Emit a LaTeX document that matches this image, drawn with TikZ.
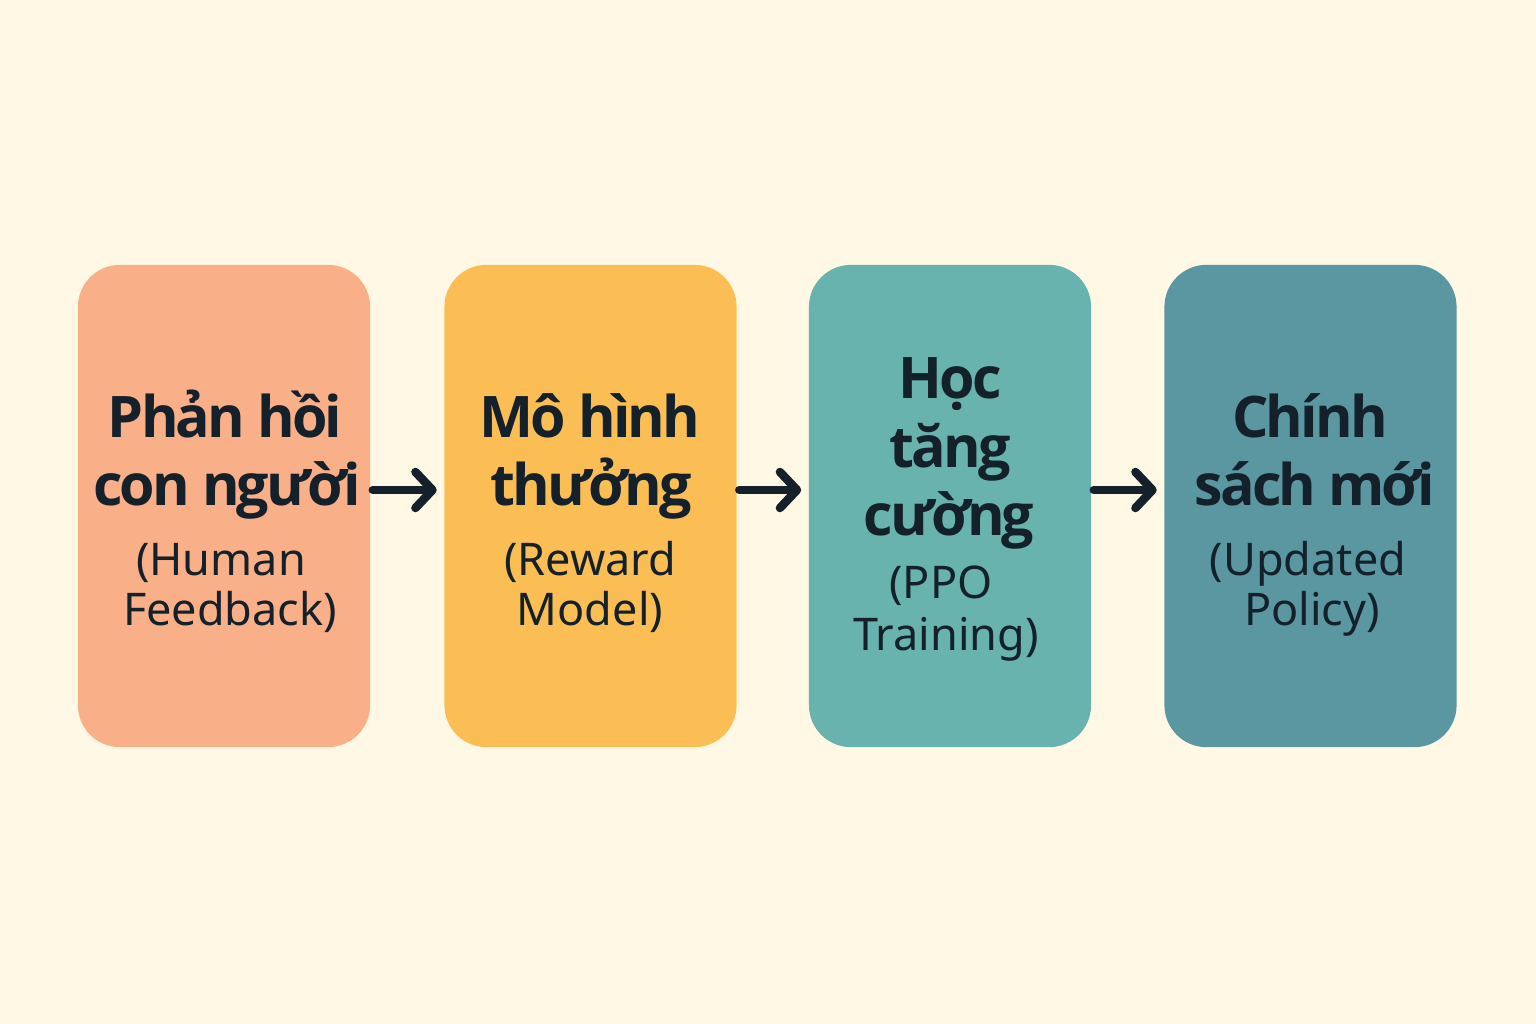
\documentclass[tikz,border=0pt]{standalone}
\usepackage{fontspec}
\setmainfont{Noto Sans}
\usetikzlibrary{arrows.meta}
\definecolor{bgc}{HTML}{FEF8E4}
\definecolor{cA}{HTML}{F9AF88}
\definecolor{cB}{HTML}{FBBE55}
\definecolor{cC}{HTML}{68B3AE}
\definecolor{cD}{HTML}{5A97A1}
\definecolor{ink}{HTML}{14212B}
\newfontfamily\boldf[LetterSpace=-5]{Open Sans}
\tikzset{
  box/.style={rectangle, rounded corners=0.42cm, minimum width=2.92cm, minimum height=4.82cm, inner sep=0pt},
  tb/.style={anchor=base, text=ink, inner sep=0pt, font=\boldf\bfseries\fontsize{16.3}{20}\selectfont},
  tr/.style={anchor=base, text=ink, inner sep=0pt, font=\fontsize{12.8}{15}\selectfont},
  flow/.style={draw=ink, line width=0.085cm, line cap=round, -{Straight Barb[length=0.17cm, width=0.36cm, line cap=round, line join=round]}, shorten <=0.02cm, shorten >=0.07cm}
}
\begin{document}
\begin{tikzpicture}[x=0.01cm, y=-0.01cm]
\fill[bgc] (0,0) rectangle (1536,1024);
\useasboundingbox (0,0) rectangle (1536,1024);
\node[box, fill=cA] (b1) at (224,506) {};
\node[box, fill=cB] (b2) at (590.5,506) {};
\node[box, fill=cC, minimum width=2.82cm] (b3) at (950,506) {};
\node[box, fill=cD] (b4) at (1310.5,506) {};
\node[tb] (t1a) at (225,437) {Phản hồi};
\node[tb] (t1b) at (227,505) {con người};
\node[tr] (t1c) at (221,575) {(Human};
\node[tr] (t1d) at (230,625) {Feedback)};
\node[tb] (t2a) at (590,437) {Mô hình};
\node[tb] (t2b) at (591,505) {thưởng};
\node[tr] (t2c) at (590,575) {(Reward};
\node[tr] (t2d) at (590,625) {Model)};
\node[tb] (t3a) at (950,398) {Học};
\node[tb] (t3b) at (950,467) {tăng};
\node[tb] (t3c) at (949,535) {cường};
\node[tr] (t3d) at (941,598) {(PPO};
\node[tr] (t3e) at (946,650) {Training)};
\node[tb] (t4a) at (1310,437) {Chính};
\node[tb] (t4b) at (1315,505) {sách mới};
\node[tr] (t4c) at (1308,575) {(Updated};
\node[tr] (t4d) at (1312,625) {Policy)};
\draw[flow] ([yshift=0.16cm]b1.east) -- ([yshift=0.16cm]b2.west);
\draw[flow] ([yshift=0.16cm]b2.east) -- ([yshift=0.16cm]b3.west);
\draw[flow] ([yshift=0.16cm]b3.east) -- ([yshift=0.16cm]b4.west);
\end{tikzpicture}
\end{document}
